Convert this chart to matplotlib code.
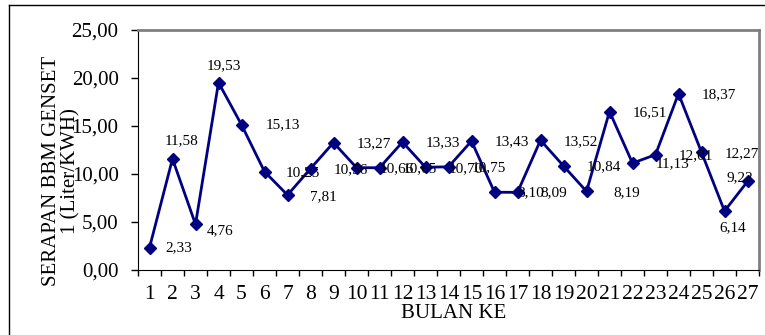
import matplotlib.pyplot as plt
from matplotlib.lines import Line2D

# Serapan BBM genset per bulan
bulan = list(range(1, 28))
serapan = [2.33, 11.58, 4.76, 19.53, 15.13, 10.25, 7.81, 10.56, 13.27, 10.66,
           10.65, 13.33, 10.70, 10.75, 13.43, 8.10, 8.09, 13.52, 10.84, 8.19,
           16.51, 11.13, 12.01, 18.37, 12.27, 6.14, 9.22]
label_serapan = ["2,33", "11,58", "4,76", "19,53", "15,13", "10,25", "7,81", "10,56",
                 "13,27", "10,66", "10,65", "13,33", "10,70", "10,75", "13,43", "8,10",
                 "8,09", "13,52", "10,84", "8,19", "16,51", "11,13", "12,01", "18,37",
                 "12,27", "6,14", "9,22"]
y_ticks = [0, 5, 10, 15, 20, 25]
y_ticklabels = ["0,00", "5,00", "10,00", "15,00", "20,00", "25,00"]

plt.rcParams['font.family'] = ['Liberation Serif', 'DejaVu Serif']

fig = plt.figure(figsize=(7.65, 3.35), dpi=100)
ax = fig.add_axes([138/765, 1 - 270/335, (759 - 138)/765, (270 - 30)/335])

ax.plot(bulan, serapan, color='#000080', lw=2, marker='D', ms=6, mec='#000080', mfc='#000080')

# posisi label (pixel) relatif ke titik, kebanyakan di kanan
geser = {1: (29, 0), 2: (9, 18), 3: (25, -6), 4: (5, 17), 5: (41, 0),
         6: (38, -1), 7: (36, -2), 16: (36, 0), 17: (36, 0),
         26: (8, -17), 27: (-8, 4)}
for b, v, lab in zip(bulan, serapan, label_serapan):
    dx, dy = geser.get(b, (40, -1))
    ax.annotate(lab, (b, v), xytext=(dx, dy), textcoords='offset pixels',
                ha='center', va='center', fontsize=11)

ax.set_xlim(0.5, 27.5)
ax.set_ylim(0, 25)
ax.set_yticks(y_ticks)
ax.set_yticklabels(y_ticklabels, fontsize=15)
ax.set_xticks(bulan)
ax.set_xticklabels([str(b) for b in bulan], fontsize=15.5)
ax.set_xticks([b + 0.5 for b in [0] + bulan], minor=True)
ax.tick_params(axis='x', which='major', length=0, pad=11)
ax.tick_params(axis='x', which='minor', length=4, direction='out', width=1)
ax.tick_params(axis='y', length=5, direction='out', width=1, pad=9)

for s in ['top', 'right']:
    ax.spines[s].set_color('#808080')
    ax.spines[s].set_linewidth(2)
ax.spines['left'].set_color('black')
ax.spines['bottom'].set_color('black')

fig.text(454/765, 1 - 313/335, "BULAN KE", ha='center', va='center', fontsize=15)
fig.text(61/765, 1 - 171/335, "SERAPAN BBM GENSET\n1 (Liter/KWH)", rotation=90,
         ha='center', va='center', multialignment='center', fontsize=15, linespacing=1.0)

# bingkai luar
fig.add_artist(Line2D([9/765, 9/765], [0, 1 - 5/335], transform=fig.transFigure, color='black', lw=1))
fig.add_artist(Line2D([9/765, 1], [1 - 5/335, 1 - 5/335], transform=fig.transFigure, color='black', lw=1))

fig.savefig("out.png", dpi=100)
